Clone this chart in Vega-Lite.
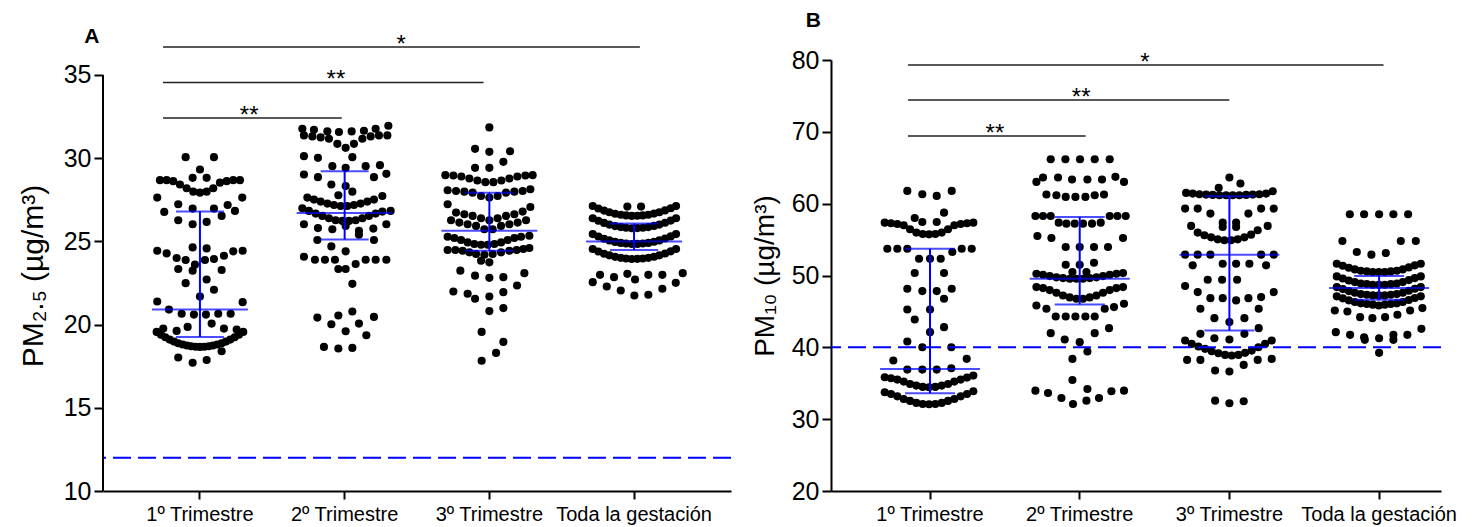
{
  "$schema": "https://vega.github.io/schema/vega-lite/v6.json",
  "padding": {"left": 18, "top": 9, "right": 5, "bottom": 5},
  "config": {
    "font": "Liberation Sans",
    "view": {"stroke": null},
    "axis": {"grid": false, "domainColor": "#000", "domainWidth": 2, "tickColor": "#000", "tickWidth": 2, "labelColor": "#000", "titleColor": "#000", "labelFont": "Liberation Sans", "titleFont": "Liberation Sans"},
    "axisX": {"labelFontSize": 20, "labelAngle": 0, "tickSize": 8, "labelPadding": 5},
    "axisY": {"labelFontSize": 25, "tickSize": 9, "labelPadding": 3, "titleFontSize": 28, "titleFontWeight": "normal", "titlePadding": 12},
    "text": {"font": "Liberation Sans"}
  },
  "spacing": 19,
  "resolve": {"scale": {"xOffset": "independent"}},
  "datasets": {
    "pa": [
      {"g":1,"v":30.06,"o":-14.3},{"g":1,"v":30.06,"o":14},{"g":1,"v":29.32,"o":0},{"g":1,"v":28.82,"o":-7.3},{"g":1,"v":28.82,"o":6.7},
      {"g":1,"v":28.68,"o":-40},{"g":1,"v":28.68,"o":-33.3},{"g":1,"v":28.62,"o":-26.7},{"g":1,"v":28.42,"o":-20},{"g":1,"v":28.19,"o":-13.3},{"g":1,"v":27.99,"o":-6.7},{"g":1,"v":27.93,"o":0},{"g":1,"v":27.99,"o":6.7},{"g":1,"v":28.19,"o":13.3},{"g":1,"v":28.53,"o":20},{"g":1,"v":28.62,"o":26.7},{"g":1,"v":28.68,"o":33.3},{"g":1,"v":28.68,"o":40},
      {"g":1,"v":27.63,"o":-42.7},{"g":1,"v":27.63,"o":42.3},{"g":1,"v":27.23,"o":-21.7},{"g":1,"v":27.19,"o":27.7},{"g":1,"v":26.77,"o":-35.7},{"g":1,"v":26.97,"o":-7.3},{"g":1,"v":26.97,"o":14},{"g":1,"v":26.83,"o":35},{"g":1,"v":26.53,"o":21.7},{"g":1,"v":26.27,"o":-21.7},{"g":1,"v":26.03,"o":-7.3},{"g":1,"v":26.17,"o":6.7},
      {"g":1,"v":24.44,"o":-42.7},{"g":1,"v":24.28,"o":-33.3},{"g":1,"v":24.0,"o":-23.3},{"g":1,"v":23.88,"o":-14.3},{"g":1,"v":24.64,"o":-7.3},{"g":1,"v":24.58,"o":6.7},{"g":1,"v":23.88,"o":5},{"g":1,"v":23.94,"o":14},{"g":1,"v":24.14,"o":24},{"g":1,"v":24.4,"o":33.3},{"g":1,"v":24.44,"o":42.7},
      {"g":1,"v":23.6,"o":-5},{"g":1,"v":23.34,"o":-21.7},{"g":1,"v":23.24,"o":-7.3},{"g":1,"v":23.28,"o":21.7},{"g":1,"v":22.49,"o":-14.3},{"g":1,"v":22.71,"o":6.7},{"g":1,"v":22.09,"o":14},{"g":1,"v":21.69,"o":0},{"g":1,"v":21.39,"o":-42.7},{"g":1,"v":21.35,"o":42.7},{"g":1,"v":20.9,"o":-31},
      {"g":1,"v":20.65,"o":-18.3},{"g":1,"v":20.6,"o":-6},{"g":1,"v":20.6,"o":6},{"g":1,"v":20.65,"o":18.3},{"g":1,"v":20.65,"o":30.7},{"g":1,"v":20.06,"o":11.7},
      {"g":1,"v":19.76,"o":-36.7},{"g":1,"v":19.62,"o":-23.3},{"g":1,"v":19.86,"o":-12.3},{"g":1,"v":19.76,"o":24},{"g":1,"v":19.7,"o":36.7},
      {"g":1,"v":19.56,"o":-43.3},{"g":1,"v":19.39,"o":-39},{"g":1,"v":19.24,"o":-34.7},{"g":1,"v":19.1,"o":-30.3},{"g":1,"v":18.98,"o":-26},{"g":1,"v":18.88,"o":-21.7},{"g":1,"v":18.8,"o":-17.3},{"g":1,"v":18.74,"o":-13},{"g":1,"v":18.7,"o":-8.7},{"g":1,"v":18.67,"o":-4.3},{"g":1,"v":18.66,"o":0},{"g":1,"v":18.67,"o":4.3},{"g":1,"v":18.7,"o":8.7},{"g":1,"v":18.74,"o":13},{"g":1,"v":18.8,"o":17.3},{"g":1,"v":18.88,"o":21.7},{"g":1,"v":18.98,"o":26},{"g":1,"v":19.1,"o":30.3},{"g":1,"v":19.24,"o":34.7},{"g":1,"v":19.39,"o":39},{"g":1,"v":19.56,"o":43.3},
      {"g":1,"v":18.02,"o":-21.7},{"g":1,"v":17.71,"o":-7.3},{"g":1,"v":17.87,"o":6.7},{"g":1,"v":18.4,"o":21.7},

      {"g":2,"v":31.77,"o":-42.3},{"g":2,"v":31.71,"o":-30.7},{"g":2,"v":31.61,"o":-17.3},{"g":2,"v":31.57,"o":-5.7},{"g":2,"v":31.61,"o":7},{"g":2,"v":31.65,"o":19.3},{"g":2,"v":31.77,"o":31},{"g":2,"v":31.95,"o":43.7},
      {"g":2,"v":31.37,"o":-40.7},{"g":2,"v":31.31,"o":-32.3},{"g":2,"v":31.25,"o":-24},{"g":2,"v":31.17,"o":-15.7},{"g":2,"v":30.86,"o":-7.3},{"g":2,"v":30.62,"o":1},{"g":2,"v":30.86,"o":9.3},{"g":2,"v":31.17,"o":17.7},{"g":2,"v":31.31,"o":26},{"g":2,"v":31.37,"o":34.3},{"g":2,"v":31.37,"o":42.7},
      {"g":2,"v":30.12,"o":-40.7},{"g":2,"v":30.02,"o":-26.7},{"g":2,"v":30.06,"o":7.7},{"g":2,"v":29.52,"o":-12.3},{"g":2,"v":29.42,"o":1},{"g":2,"v":29.52,"o":21},{"g":2,"v":29.58,"o":35.3},
      {"g":2,"v":29.02,"o":-40.7},{"g":2,"v":28.86,"o":-26.7},{"g":2,"v":28.86,"o":29.3},{"g":2,"v":29.06,"o":41.7},{"g":2,"v":28.42,"o":-13.3},{"g":2,"v":28.33,"o":1},{"g":2,"v":27.99,"o":7.7},{"g":2,"v":27.77,"o":-6.3},
      {"g":2,"v":27.63,"o":-37.3},{"g":2,"v":27.51,"o":-30.7},{"g":2,"v":27.39,"o":-24},{"g":2,"v":27.27,"o":-17.3},{"g":2,"v":27.19,"o":-10.7},{"g":2,"v":27.13,"o":-4},{"g":2,"v":27.13,"o":2.7},{"g":2,"v":27.19,"o":9.3},{"g":2,"v":27.27,"o":16},{"g":2,"v":27.39,"o":22.7},{"g":2,"v":27.51,"o":29.3},{"g":2,"v":27.73,"o":37.7},
      {"g":2,"v":26.99,"o":-42.3},{"g":2,"v":26.83,"o":-35.7},{"g":2,"v":26.67,"o":-29},{"g":2,"v":26.53,"o":-22.3},{"g":2,"v":26.39,"o":-15.7},{"g":2,"v":26.27,"o":-9},{"g":2,"v":26.23,"o":-2.3},{"g":2,"v":26.23,"o":4.3},{"g":2,"v":26.27,"o":11},{"g":2,"v":26.39,"o":17.7},{"g":2,"v":26.53,"o":24.3},{"g":2,"v":26.67,"o":31},{"g":2,"v":26.79,"o":37.7},{"g":2,"v":26.83,"o":46},
      {"g":2,"v":26.03,"o":-40.7},{"g":2,"v":25.8,"o":-26.7},{"g":2,"v":25.73,"o":-12.3},{"g":2,"v":25.93,"o":1},{"g":2,"v":25.64,"o":14.3},{"g":2,"v":25.77,"o":28.7},{"g":2,"v":26.03,"o":41.7},
      {"g":2,"v":25.08,"o":-27.3},{"g":2,"v":24.7,"o":-13.3},{"g":2,"v":24.4,"o":1},{"g":2,"v":25.4,"o":14.3},{"g":2,"v":25.08,"o":29.3},
      {"g":2,"v":24.08,"o":-40.7},{"g":2,"v":23.9,"o":-29.7},{"g":2,"v":23.9,"o":-19.7},{"g":2,"v":23.9,"o":-9.7},{"g":2,"v":23.64,"o":11},{"g":2,"v":23.9,"o":21},{"g":2,"v":23.9,"o":31},{"g":2,"v":23.9,"o":41.7},
      {"g":2,"v":23.34,"o":-6.3},{"g":2,"v":23.34,"o":1},{"g":2,"v":22.45,"o":7.7},
      {"g":2,"v":20.55,"o":-6.3},{"g":2,"v":20.79,"o":7.7},{"g":2,"v":20.42,"o":-27.3},{"g":2,"v":20.02,"o":-13.3},{"g":2,"v":20.06,"o":14.3},{"g":2,"v":20.46,"o":29.3},{"g":2,"v":19.6,"o":1},{"g":2,"v":19.36,"o":21.7},
      {"g":2,"v":18.66,"o":-20.7},{"g":2,"v":18.56,"o":-6.3},{"g":2,"v":18.6,"o":7.7},

      {"g":3,"v":31.85,"o":0},{"g":3,"v":30.56,"o":-14.3},{"g":3,"v":30.38,"o":0},{"g":3,"v":30.42,"o":20.7},{"g":3,"v":29.78,"o":14},{"g":3,"v":29.42,"o":-14.3},{"g":3,"v":29.42,"o":0},
      {"g":3,"v":28.98,"o":-44},{"g":3,"v":28.96,"o":-36},{"g":3,"v":28.9,"o":-28},{"g":3,"v":28.78,"o":-20},{"g":3,"v":28.66,"o":-12},{"g":3,"v":28.56,"o":-4},{"g":3,"v":28.56,"o":4},{"g":3,"v":28.66,"o":12},{"g":3,"v":28.78,"o":20},{"g":3,"v":28.9,"o":28},{"g":3,"v":28.96,"o":36},{"g":3,"v":28.98,"o":43.3},
      {"g":3,"v":28.07,"o":-41.7},{"g":3,"v":28.03,"o":-33.3},{"g":3,"v":27.99,"o":-25},{"g":3,"v":27.93,"o":-16.7},{"g":3,"v":27.73,"o":-8.3},{"g":3,"v":27.63,"o":0},{"g":3,"v":27.73,"o":8.3},{"g":3,"v":27.93,"o":16.7},{"g":3,"v":27.99,"o":25},{"g":3,"v":28.03,"o":33.3},{"g":3,"v":28.13,"o":41},
      {"g":3,"v":27.23,"o":-41.7},{"g":3,"v":27.07,"o":41},
      {"g":3,"v":26.73,"o":-33.3},{"g":3,"v":26.63,"o":-25},{"g":3,"v":26.53,"o":-16.7},{"g":3,"v":26.39,"o":-8.3},{"g":3,"v":26.27,"o":0},{"g":3,"v":26.39,"o":8.3},{"g":3,"v":26.53,"o":16.7},{"g":3,"v":26.63,"o":25},{"g":3,"v":26.79,"o":33.3},
      {"g":3,"v":26.27,"o":-38.3},{"g":3,"v":26.13,"o":-30},{"g":3,"v":26.03,"o":-21.7},{"g":3,"v":25.93,"o":-13.3},{"g":3,"v":25.73,"o":-5},{"g":3,"v":25.73,"o":3.3},{"g":3,"v":25.93,"o":11.7},{"g":3,"v":26.03,"o":20},{"g":3,"v":26.13,"o":28.3},{"g":3,"v":26.27,"o":36.7},
      {"g":3,"v":25.28,"o":-41.7},{"g":3,"v":25.2,"o":-35},{"g":3,"v":25.08,"o":-28.3},{"g":3,"v":24.94,"o":-21.7},{"g":3,"v":24.84,"o":-15},{"g":3,"v":24.8,"o":-8.3},{"g":3,"v":24.8,"o":-1.7},{"g":3,"v":24.84,"o":5},{"g":3,"v":24.94,"o":11.7},{"g":3,"v":25.08,"o":18.3},{"g":3,"v":25.2,"o":25},{"g":3,"v":25.28,"o":31.7},{"g":3,"v":25.34,"o":40},
      {"g":3,"v":24.48,"o":-41.7},{"g":3,"v":24.48,"o":-34},{"g":3,"v":24.44,"o":-26.7},{"g":3,"v":24.34,"o":-20},{"g":3,"v":24.24,"o":-13.3},{"g":3,"v":24.2,"o":-5},{"g":3,"v":24.24,"o":3.3},{"g":3,"v":24.34,"o":11.7},{"g":3,"v":24.44,"o":20},{"g":3,"v":24.48,"o":27.3},{"g":3,"v":24.54,"o":34},{"g":3,"v":24.6,"o":40},
      {"g":3,"v":23.84,"o":-8.3},{"g":3,"v":23.74,"o":0},{"g":3,"v":23.24,"o":-29},{"g":3,"v":22.94,"o":-14.3},{"g":3,"v":22.81,"o":0},{"g":3,"v":22.85,"o":14},{"g":3,"v":23.09,"o":35},{"g":3,"v":22.35,"o":27.7},
      {"g":3,"v":21.99,"o":-36},{"g":3,"v":21.85,"o":-21.7},{"g":3,"v":21.55,"o":-14.3},{"g":3,"v":21.69,"o":0},{"g":3,"v":21.95,"o":14},{"g":3,"v":20.81,"o":0},{"g":3,"v":20.99,"o":14},
      {"g":3,"v":19.56,"o":-7.7},{"g":3,"v":18.96,"o":14},{"g":3,"v":18.3,"o":6.7},{"g":3,"v":17.83,"o":-7.7},

      {"g":4,"v":27.09,"o":-6.7},{"g":4,"v":27.09,"o":7},
      {"g":4,"v":27.13,"o":-41.3},{"g":4,"v":26.98,"o":-35.7},{"g":4,"v":26.85,"o":-30},{"g":4,"v":26.75,"o":-24.7},{"g":4,"v":26.66,"o":-19},{"g":4,"v":26.6,"o":-13.3},{"g":4,"v":26.56,"o":-8},{"g":4,"v":26.53,"o":-2.3},{"g":4,"v":26.54,"o":3.3},{"g":4,"v":26.56,"o":8.7},{"g":4,"v":26.6,"o":14.3},{"g":4,"v":26.67,"o":20},{"g":4,"v":26.75,"o":25.3},{"g":4,"v":26.86,"o":31},{"g":4,"v":26.99,"o":36.7},{"g":4,"v":27.13,"o":42},
      {"g":4,"v":26.39,"o":-41.3},{"g":4,"v":26.24,"o":-35.7},{"g":4,"v":26.11,"o":-30},{"g":4,"v":26.01,"o":-24.7},{"g":4,"v":25.92,"o":-19},{"g":4,"v":25.86,"o":-13.3},{"g":4,"v":25.82,"o":-8},{"g":4,"v":25.79,"o":-2.3},{"g":4,"v":25.8,"o":3.3},{"g":4,"v":25.82,"o":8.7},{"g":4,"v":25.86,"o":14.3},{"g":4,"v":25.93,"o":20},{"g":4,"v":26.01,"o":25.3},{"g":4,"v":26.12,"o":31},{"g":4,"v":26.25,"o":36.7},{"g":4,"v":26.39,"o":42},
      {"g":4,"v":25.44,"o":-41.3},{"g":4,"v":25.29,"o":-35.7},{"g":4,"v":25.16,"o":-30},{"g":4,"v":25.06,"o":-24.7},{"g":4,"v":24.97,"o":-19},{"g":4,"v":24.91,"o":-13.3},{"g":4,"v":24.87,"o":-8},{"g":4,"v":24.84,"o":-2.3},{"g":4,"v":24.85,"o":3.3},{"g":4,"v":24.87,"o":8.7},{"g":4,"v":24.91,"o":14.3},{"g":4,"v":24.98,"o":20},{"g":4,"v":25.06,"o":25.3},{"g":4,"v":25.17,"o":31},{"g":4,"v":25.3,"o":36.7},{"g":4,"v":25.44,"o":42},
      {"g":4,"v":24.54,"o":-41.3},{"g":4,"v":24.39,"o":-35.7},{"g":4,"v":24.26,"o":-30},{"g":4,"v":24.16,"o":-24.7},{"g":4,"v":24.07,"o":-19},{"g":4,"v":24.01,"o":-13.3},{"g":4,"v":23.97,"o":-8},{"g":4,"v":23.94,"o":-2.3},{"g":4,"v":23.95,"o":3.3},{"g":4,"v":23.97,"o":8.7},{"g":4,"v":24.01,"o":14.3},{"g":4,"v":24.08,"o":20},{"g":4,"v":24.16,"o":25.3},{"g":4,"v":24.27,"o":31},{"g":4,"v":24.4,"o":36.7},{"g":4,"v":24.54,"o":42},
      {"g":4,"v":22.99,"o":-34},{"g":4,"v":22.85,"o":-20},{"g":4,"v":23.05,"o":-6.7},{"g":4,"v":22.71,"o":1},{"g":4,"v":22.99,"o":14.3},{"g":4,"v":22.99,"o":28.3},{"g":4,"v":23.09,"o":48.7},
      {"g":4,"v":22.55,"o":-41.3},{"g":4,"v":22.29,"o":-27.3},{"g":4,"v":22.05,"o":-13.3},{"g":4,"v":21.75,"o":0.3},{"g":4,"v":21.79,"o":14.3},{"g":4,"v":22.15,"o":28.3},{"g":4,"v":22.51,"o":41.7}
    ],
    "pb": [
      {"g":1,"v":61.78,"o":-22.7},{"g":1,"v":61.31,"o":-7.7},{"g":1,"v":61.08,"o":6.7},{"g":1,"v":61.78,"o":21.7},{"g":1,"v":58.75,"o":14},{"g":1,"v":58.01,"o":-15.3},{"g":1,"v":57.45,"o":-7.7},{"g":1,"v":57.45,"o":6.7},
      {"g":1,"v":57.36,"o":-45.3},{"g":1,"v":57.27,"o":-39},{"g":1,"v":57.17,"o":-32.7},{"g":1,"v":56.99,"o":-26.3},{"g":1,"v":56.43,"o":-20},{"g":1,"v":55.97,"o":-13.7},{"g":1,"v":55.78,"o":-7.3},{"g":1,"v":55.73,"o":-1},{"g":1,"v":55.78,"o":5.3},{"g":1,"v":55.97,"o":11.7},{"g":1,"v":56.43,"o":18},{"g":1,"v":56.99,"o":24.3},{"g":1,"v":57.17,"o":30.7},{"g":1,"v":57.27,"o":37},{"g":1,"v":57.36,"o":43.3},
      {"g":1,"v":53.73,"o":-42.7},{"g":1,"v":53.73,"o":-32.7},{"g":1,"v":53.73,"o":-22.7},{"g":1,"v":53.27,"o":22.3},{"g":1,"v":53.73,"o":31.7},{"g":1,"v":53.73,"o":41.7},
      {"g":1,"v":52.34,"o":-11},{"g":1,"v":52.34,"o":0},{"g":1,"v":52.34,"o":10.7},{"g":1,"v":50.34,"o":-15.3},{"g":1,"v":50.34,"o":14},
      {"g":1,"v":48.15,"o":-22.7},{"g":1,"v":47.83,"o":-7.7},{"g":1,"v":47.83,"o":6.7},{"g":1,"v":48.15,"o":21.7},{"g":1,"v":46.76,"o":14},
      {"g":1,"v":45.27,"o":-22.7},{"g":1,"v":45.27,"o":0},{"g":1,"v":43.88,"o":-15.3},{"g":1,"v":42.11,"o":0},{"g":1,"v":42.81,"o":14},
      {"g":1,"v":40.81,"o":-22.7},{"g":1,"v":40.02,"o":-7.7},{"g":1,"v":40.02,"o":21.3},{"g":1,"v":38.16,"o":-36.7},{"g":1,"v":38.4,"o":36.7},
      {"g":1,"v":36.9,"o":-22.7},{"g":1,"v":36.9,"o":-7.7},{"g":1,"v":36.9,"o":6.7},{"g":1,"v":37.09,"o":21.3},
      {"g":1,"v":35.83,"o":-45.3},{"g":1,"v":35.7,"o":-39},{"g":1,"v":35.51,"o":-32.7},{"g":1,"v":35.23,"o":-26.3},{"g":1,"v":34.9,"o":-20},{"g":1,"v":34.67,"o":-13.7},{"g":1,"v":34.49,"o":-7.3},{"g":1,"v":34.44,"o":-1},{"g":1,"v":34.49,"o":5.3},{"g":1,"v":34.67,"o":11.7},{"g":1,"v":34.9,"o":18},{"g":1,"v":35.23,"o":24.3},{"g":1,"v":35.51,"o":30.7},{"g":1,"v":35.79,"o":37},{"g":1,"v":36.07,"o":43.3},
      {"g":1,"v":33.74,"o":-45.3},{"g":1,"v":33.51,"o":-39},{"g":1,"v":33.18,"o":-32.7},{"g":1,"v":32.81,"o":-26.3},{"g":1,"v":32.54,"o":-20},{"g":1,"v":32.26,"o":-13.7},{"g":1,"v":32.12,"o":-7.3},{"g":1,"v":32.07,"o":-1},{"g":1,"v":32.12,"o":5.3},{"g":1,"v":32.26,"o":11.7},{"g":1,"v":32.54,"o":18},{"g":1,"v":32.81,"o":24.3},{"g":1,"v":33.18,"o":30.7},{"g":1,"v":33.51,"o":37},{"g":1,"v":33.88,"o":43.3},

      {"g":2,"v":66.19,"o":-29},{"g":2,"v":66.19,"o":-14.3},{"g":2,"v":66.19,"o":0.3},{"g":2,"v":66.19,"o":15},{"g":2,"v":66.19,"o":30},
      {"g":2,"v":63.03,"o":-43.3},{"g":2,"v":63.64,"o":-36.7},{"g":2,"v":63.64,"o":-21.7},{"g":2,"v":63.36,"o":-7.7},{"g":2,"v":63.36,"o":7.7},{"g":2,"v":63.36,"o":22.3},{"g":2,"v":63.73,"o":35.7},{"g":2,"v":63.03,"o":44.3},
      {"g":2,"v":61.27,"o":-33.3},{"g":2,"v":61.17,"o":-23.3},{"g":2,"v":60.94,"o":-14},{"g":2,"v":60.94,"o":-4.3},{"g":2,"v":60.94,"o":5.7},{"g":2,"v":61.17,"o":15},{"g":2,"v":61.27,"o":24.3},
      {"g":2,"v":58.29,"o":-44.3},{"g":2,"v":58.29,"o":-36.7},{"g":2,"v":58.29,"o":-29},{"g":2,"v":58.29,"o":30},{"g":2,"v":58.29,"o":37.7},{"g":2,"v":58.29,"o":46},
      {"g":2,"v":57.36,"o":-21},{"g":2,"v":57.22,"o":-13.3},{"g":2,"v":57.22,"o":-5},{"g":2,"v":57.22,"o":3.3},{"g":2,"v":57.22,"o":12.3},{"g":2,"v":57.36,"o":21},
      {"g":2,"v":55.5,"o":-42.3},{"g":2,"v":55.22,"o":-28.3},{"g":2,"v":55.22,"o":43.3},
      {"g":2,"v":53.97,"o":-14},{"g":2,"v":53.97,"o":0},{"g":2,"v":53.97,"o":14.3},{"g":2,"v":53.97,"o":28.3},
      {"g":2,"v":51.5,"o":-14},{"g":2,"v":51.5,"o":0},{"g":2,"v":51.78,"o":14.3},{"g":2,"v":50.48,"o":-7.3},{"g":2,"v":50.48,"o":6.7},
      {"g":2,"v":50.25,"o":-43.3},{"g":2,"v":50.11,"o":-36.7},{"g":2,"v":49.92,"o":-30},{"g":2,"v":49.74,"o":-23.3},{"g":2,"v":49.64,"o":-16.7},{"g":2,"v":49.55,"o":-10},{"g":2,"v":49.55,"o":-3.3},{"g":2,"v":49.55,"o":3.3},{"g":2,"v":49.64,"o":10},{"g":2,"v":49.74,"o":16.7},{"g":2,"v":49.92,"o":23.3},{"g":2,"v":50.11,"o":30},{"g":2,"v":50.25,"o":36.7},{"g":2,"v":50.34,"o":43.3},
      {"g":2,"v":48.39,"o":-43.3},{"g":2,"v":48.25,"o":-36.7},{"g":2,"v":47.97,"o":-30},{"g":2,"v":47.6,"o":-23.3},{"g":2,"v":47.22,"o":-16.7},{"g":2,"v":46.95,"o":-10},{"g":2,"v":46.76,"o":-3.3},{"g":2,"v":46.76,"o":3.3},{"g":2,"v":46.95,"o":10},{"g":2,"v":47.22,"o":16.7},{"g":2,"v":47.6,"o":23.3},{"g":2,"v":47.97,"o":30},{"g":2,"v":48.25,"o":36.7},{"g":2,"v":48.39,"o":43.3},
      {"g":2,"v":45.83,"o":-43.3},{"g":2,"v":45.37,"o":-33.3},{"g":2,"v":45.37,"o":25},{"g":2,"v":45.6,"o":34.3},{"g":2,"v":46.06,"o":44.3},
      {"g":2,"v":44.3,"o":-24},{"g":2,"v":44.3,"o":-14},{"g":2,"v":44.3,"o":-4.3},{"g":2,"v":44.3,"o":5.7},{"g":2,"v":44.3,"o":15},
      {"g":2,"v":41.97,"o":-29},{"g":2,"v":41.09,"o":-15},{"g":2,"v":40.72,"o":0},{"g":2,"v":41.97,"o":15},{"g":2,"v":42.67,"o":29.3},
      {"g":2,"v":39.42,"o":7.7},{"g":2,"v":38.39,"o":-7.3},{"g":2,"v":35.46,"o":-7.3},
      {"g":2,"v":33.97,"o":-44.3},{"g":2,"v":33.65,"o":-31.7},{"g":2,"v":32.95,"o":-18.3},{"g":2,"v":32.12,"o":-6.7},{"g":2,"v":32.58,"o":6.7},{"g":2,"v":34.2,"o":7.7},{"g":2,"v":32.95,"o":19.3},{"g":2,"v":33.88,"o":31.7},{"g":2,"v":33.97,"o":44.3},

      {"g":3,"v":63.64,"o":0},{"g":3,"v":62.2,"o":-10.7},{"g":3,"v":62.8,"o":11},
      {"g":3,"v":61.5,"o":-43.3},{"g":3,"v":61.4,"o":-36.7},{"g":3,"v":61.31,"o":-30},{"g":3,"v":61.26,"o":-23.3},{"g":3,"v":61.22,"o":-16.7},{"g":3,"v":61.17,"o":-10},{"g":3,"v":61.17,"o":-3.3},{"g":3,"v":61.17,"o":3.3},{"g":3,"v":61.17,"o":10},{"g":3,"v":61.22,"o":16.7},{"g":3,"v":61.26,"o":23.3},{"g":3,"v":61.31,"o":30},{"g":3,"v":61.4,"o":36.7},{"g":3,"v":61.73,"o":43.3},
      {"g":3,"v":59.31,"o":-44.3},{"g":3,"v":59.31,"o":-31.7},{"g":3,"v":58.62,"o":-19},{"g":3,"v":58.62,"o":19},{"g":3,"v":59.31,"o":31.7},{"g":3,"v":59.31,"o":44.3},
      {"g":3,"v":57.36,"o":-6.7},{"g":3,"v":57.36,"o":6.7},{"g":3,"v":56.76,"o":-6.7},{"g":3,"v":56.76,"o":6.7},{"g":3,"v":56.9,"o":-38.3},{"g":3,"v":56.9,"o":38.3},
      {"g":3,"v":55.97,"o":-31.7},{"g":3,"v":55.6,"o":-25},{"g":3,"v":55.31,"o":-18.3},{"g":3,"v":55.03,"o":-11.7},{"g":3,"v":54.9,"o":-5},{"g":3,"v":54.9,"o":1.7},{"g":3,"v":55.03,"o":8.3},{"g":3,"v":55.31,"o":15},{"g":3,"v":55.69,"o":21.7},{"g":3,"v":56.3,"o":28.3},
      {"g":3,"v":52.9,"o":-44.3},{"g":3,"v":52.9,"o":-31.7},{"g":3,"v":52.9,"o":-19},{"g":3,"v":52.9,"o":31.7},{"g":3,"v":52.9,"o":44.3},
      {"g":3,"v":51.41,"o":-36.7},{"g":3,"v":51.64,"o":-6.7},{"g":3,"v":51.64,"o":6.7},{"g":3,"v":51.64,"o":20},{"g":3,"v":51.41,"o":36.7},
      {"g":3,"v":49.41,"o":-21.7},{"g":3,"v":49.41,"o":-7.3},{"g":3,"v":49.41,"o":7.7},
      {"g":3,"v":48.53,"o":-44.3},{"g":3,"v":47.69,"o":-31.7},{"g":3,"v":46.85,"o":-19},{"g":3,"v":46.85,"o":-6.7},{"g":3,"v":46.53,"o":6.7},{"g":3,"v":46.85,"o":19},{"g":3,"v":46.99,"o":31.7},{"g":3,"v":47.69,"o":44.3},
      {"g":3,"v":45.37,"o":-29},{"g":3,"v":45.37,"o":29.3},{"g":3,"v":44.06,"o":-15},{"g":3,"v":44.06,"o":15},{"g":3,"v":43.51,"o":0},
      {"g":3,"v":41.88,"o":-29},{"g":3,"v":42.67,"o":29.3},{"g":3,"v":41.88,"o":15},{"g":3,"v":41.27,"o":-15},{"g":3,"v":41.09,"o":0},
      {"g":3,"v":40.95,"o":-44.3},{"g":3,"v":40.48,"o":-37.7},{"g":3,"v":40.11,"o":-31},{"g":3,"v":39.79,"o":-24.3},{"g":3,"v":39.46,"o":-17.7},{"g":3,"v":39.18,"o":-11},{"g":3,"v":38.95,"o":-4.3},{"g":3,"v":38.86,"o":2.3},{"g":3,"v":38.95,"o":9},{"g":3,"v":39.23,"o":15.7},{"g":3,"v":39.55,"o":22.3},{"g":3,"v":40.02,"o":29},{"g":3,"v":40.48,"o":35.7},{"g":3,"v":40.95,"o":42.3},
      {"g":3,"v":38.25,"o":-42.3},{"g":3,"v":38.25,"o":-29},{"g":3,"v":38.25,"o":28.3},{"g":3,"v":38.39,"o":42.3},
      {"g":3,"v":36.77,"o":-14.3},{"g":3,"v":36.63,"o":0},{"g":3,"v":37.55,"o":14.3},
      {"g":3,"v":32.58,"o":-14.3},{"g":3,"v":32.21,"o":0},{"g":3,"v":32.49,"o":14.3},

      {"g":4,"v":58.52,"o":-29.3},{"g":4,"v":58.52,"o":-15},{"g":4,"v":58.52,"o":0},{"g":4,"v":58.52,"o":14.3},{"g":4,"v":58.52,"o":29},
      {"g":4,"v":54.8,"o":-36.7},{"g":4,"v":54.8,"o":21.7},{"g":4,"v":54.8,"o":36.7},
      {"g":4,"v":53.27,"o":-22.3},{"g":4,"v":52.9,"o":-7.7},{"g":4,"v":53.13,"o":6.7},
      {"g":4,"v":51.64,"o":-42.3},{"g":4,"v":51.36,"o":-36.3},{"g":4,"v":51.08,"o":-30.3},{"g":4,"v":50.85,"o":-24.3},{"g":4,"v":50.66,"o":-18.3},{"g":4,"v":50.57,"o":-12.3},{"g":4,"v":50.48,"o":-6.3},{"g":4,"v":50.48,"o":-0.3},{"g":4,"v":50.48,"o":5.7},{"g":4,"v":50.57,"o":11.7},{"g":4,"v":50.66,"o":17.7},{"g":4,"v":50.85,"o":23.7},{"g":4,"v":51.13,"o":29.7},{"g":4,"v":51.41,"o":35.7},{"g":4,"v":51.64,"o":41.7},
      {"g":4,"v":49.87,"o":-42.3},{"g":4,"v":49.59,"o":-36.3},{"g":4,"v":49.31,"o":-30.3},{"g":4,"v":49.08,"o":-24.3},{"g":4,"v":48.89,"o":-18.3},{"g":4,"v":48.8,"o":-12.3},{"g":4,"v":48.71,"o":-6.3},{"g":4,"v":48.71,"o":-0.3},{"g":4,"v":48.71,"o":5.7},{"g":4,"v":48.8,"o":11.7},{"g":4,"v":48.89,"o":17.7},{"g":4,"v":49.08,"o":23.7},{"g":4,"v":49.36,"o":29.7},{"g":4,"v":49.64,"o":35.7},{"g":4,"v":49.87,"o":41.7},
      {"g":4,"v":48.39,"o":-42.3},{"g":4,"v":48.11,"o":-36.3},{"g":4,"v":47.83,"o":-30.3},{"g":4,"v":47.6,"o":-24.3},{"g":4,"v":47.41,"o":-18.3},{"g":4,"v":47.32,"o":-12.3},{"g":4,"v":47.23,"o":-6.3},{"g":4,"v":47.23,"o":-0.3},{"g":4,"v":47.23,"o":5.7},{"g":4,"v":47.32,"o":11.7},{"g":4,"v":47.41,"o":17.7},{"g":4,"v":47.6,"o":23.7},{"g":4,"v":47.88,"o":29.7},{"g":4,"v":48.16,"o":35.7},{"g":4,"v":48.39,"o":41.7},
      {"g":4,"v":47.1,"o":-42.3},{"g":4,"v":46.82,"o":-36.3},{"g":4,"v":46.54,"o":-30.3},{"g":4,"v":46.31,"o":-24.3},{"g":4,"v":46.12,"o":-18.3},{"g":4,"v":46.03,"o":-12.3},{"g":4,"v":45.94,"o":-6.3},{"g":4,"v":45.83,"o":-0.3},{"g":4,"v":45.94,"o":5.7},{"g":4,"v":46.03,"o":11.7},{"g":4,"v":46.12,"o":17.7},{"g":4,"v":46.31,"o":23.7},{"g":4,"v":46.59,"o":29.7},{"g":4,"v":46.87,"o":35.7},{"g":4,"v":47.1,"o":41.7},
      {"g":4,"v":45.13,"o":-44.3},{"g":4,"v":44.99,"o":-31.7},{"g":4,"v":44.2,"o":-19},{"g":4,"v":44.06,"o":-6.7},{"g":4,"v":44.2,"o":6},{"g":4,"v":44.53,"o":18.3},{"g":4,"v":45.13,"o":31},{"g":4,"v":45.46,"o":43.3},
      {"g":4,"v":42.11,"o":-43.3},{"g":4,"v":41.74,"o":-29},{"g":4,"v":41.41,"o":-15},{"g":4,"v":41.04,"o":-14.3},{"g":4,"v":41.27,"o":0},{"g":4,"v":41.74,"o":14.3},{"g":4,"v":41.04,"o":14.3},{"g":4,"v":41.74,"o":28.3},{"g":4,"v":42.57,"o":42.3},
      {"g":4,"v":39.23,"o":0}
    ],
    "sa": [
      {"g":1,"q1":19.26,"med":20.9,"q3":26.8},
      {"g":2,"q1":25.12,"med":26.71,"q3":29.22},
      {"g":3,"q1":24.44,"med":25.64,"q3":27.93},
      {"g":4,"q1":24.48,"med":25.0,"q3":26.07}
    ],
    "sb": [
      {"g":1,"q1":33.6,"med":37.0,"q3":53.73},
      {"g":2,"q1":45.97,"med":49.55,"q3":58.15},
      {"g":3,"q1":42.34,"med":52.9,"q3":61.03},
      {"g":4,"q1":46.62,"med":48.25,"q3":49.92}
    ],
    "ba": [
      {"x1":0.745,"x2":1.98,"xm":1.34,"y":32.42,"t":"**"},
      {"x1":0.745,"x2":2.96,"xm":1.94,"y":34.55,"t":"**"},
      {"x1":0.745,"x2":4.04,"xm":2.39,"y":36.68,"t":"*"}
    ],
    "bb": [
      {"x1":0.853,"x2":2.04,"xm":1.434,"y":69.42,"t":"**"},
      {"x1":0.853,"x2":3.0,"xm":2.01,"y":74.43,"t":"**"},
      {"x1":0.853,"x2":4.03,"xm":2.436,"y":79.3,"t":"*"}
    ]
  },
  "hconcat": [
    {
      "width": 628,
      "height": 431,
      "resolve": {"scale": {"x": "independent"}},
      "layer": [
        {
          "layer": [
            {
              "data": {"name": "pa"},
              "mark": {"type": "circle", "size": 66, "opacity": 1, "color": "#000"},
              "encoding": {
                "x": {"field": "g", "type": "nominal", "title": null,
                      "scale": {"domain": [1, 2, 3, 4], "paddingInner": 0, "paddingOuter": 0.17, "round": false},
                      "axis": {"labelExpr": "datum.value == 1 ? '1º Trimestre' : datum.value == 2 ? '2º Trimestre' : datum.value == 3 ? '3º Trimestre' : 'Toda la gestación'"}},
                "xOffset": {"field": "o", "type": "quantitative", "scale": {"domain": [-72.35, 72.35]}},
                "y": {"field": "v", "type": "quantitative", "title": "PM₂.₅  (µg/m³)",
                      "scale": {"domain": [10, 35.9], "nice": false, "zero": false},
                      "axis": {"values": [10, 15, 20, 25, 30, 35], "domain": false, "titleFontSize": 30, "titlePadding": 15}}
              }
            },
            {
              "data": {"values": [{"ref": 12}]},
              "mark": {"type": "rule", "color": "#0000ff", "strokeWidth": 2, "strokeDash": [18, 7]},
              "encoding": {"y": {"field": "ref", "type": "quantitative", "title": "PM₂.₅  (µg/m³)"}}
            },
            {
              "data": {"name": "sa"},
              "mark": {"type": "rule", "color": "#0000ff", "strokeWidth": 2},
              "encoding": {
                "x": {"field": "g", "type": "nominal", "title": null},
                "y": {"field": "q1", "type": "quantitative", "title": "PM₂.₅  (µg/m³)"},
                "y2": {"field": "q3"}
              }
            },
            {
              "data": {"name": "sa"},
              "mark": {"type": "tick", "orient": "horizontal", "color": "#0000ff", "size": 96, "thickness": 2},
              "encoding": {
                "x": {"field": "g", "type": "nominal", "title": null},
                "y": {"field": "med", "type": "quantitative", "title": "PM₂.₅  (µg/m³)"}
              }
            },
            {
              "data": {"name": "sa"},
              "mark": {"type": "tick", "orient": "horizontal", "color": "#0000ff", "size": 48, "thickness": 2},
              "encoding": {
                "x": {"field": "g", "type": "nominal", "title": null},
                "y": {"field": "q1", "type": "quantitative", "title": "PM₂.₅  (µg/m³)"}
              }
            },
            {
              "data": {"name": "sa"},
              "mark": {"type": "tick", "orient": "horizontal", "color": "#0000ff", "size": 48, "thickness": 2},
              "encoding": {
                "x": {"field": "g", "type": "nominal", "title": null},
                "y": {"field": "q3", "type": "quantitative", "title": "PM₂.₅  (µg/m³)"}
              }
            }
          ]
        },
        {
          "layer": [
            {
              "data": {"name": "ba"},
              "mark": {"type": "rule", "color": "#222", "strokeWidth": 1.5},
              "encoding": {
                "x": {"field": "x1", "type": "quantitative", "axis": null, "scale": {"domain": [0.33, 4.67], "nice": false, "zero": false}},
                "x2": {"field": "x2"},
                "y": {"field": "y", "type": "quantitative", "title": "PM₂.₅  (µg/m³)"}
              }
            },
            {
              "data": {"name": "ba"},
              "mark": {"type": "text", "fontSize": 24, "baseline": "alphabetic", "dy": 5, "color": "#000"},
              "encoding": {
                "x": {"field": "xm", "type": "quantitative", "axis": null},
                "y": {"field": "y", "type": "quantitative", "title": "PM₂.₅  (µg/m³)"},
                "text": {"field": "t"}
              }
            },
            {
              "data": {"values": [{"panel": "A"}]},
              "mark": {"type": "text", "fontSize": 21, "fontWeight": "bold", "align": "left", "baseline": "alphabetic", "color": "#000"},
              "encoding": {
                "x": {"datum": 0.2, "type": "quantitative", "axis": null},
                "y": {"datum": 36.92, "type": "quantitative", "title": "PM₂.₅  (µg/m³)"},
                "text": {"field": "panel"}
              }
            },
            {
              "data": {"values": [{"lo": 10, "hi": 35}]},
              "mark": {"type": "rule", "color": "#000", "strokeWidth": 2},
              "encoding": {
                "x": {"datum": 0.33, "type": "quantitative", "axis": null},
                "y": {"field": "lo", "type": "quantitative", "title": "PM₂.₅  (µg/m³)"},
                "y2": {"field": "hi"}
              }
            }
          ]
        }
      ]
    },
    {
      "width": 610,
      "height": 431,
      "resolve": {"scale": {"x": "independent"}},
      "layer": [
        {
          "layer": [
            {
              "data": {"name": "pb"},
              "mark": {"type": "circle", "size": 66, "opacity": 1, "color": "#000"},
              "encoding": {
                "x": {"field": "g", "type": "nominal", "title": null,
                      "scale": {"domain": [1, 2, 3, 4], "paddingInner": 0.173, "paddingOuter": 0.124, "align": 1, "round": false},
                      "axis": {"labelExpr": "datum.value == 1 ? '1º Trimestre' : datum.value == 2 ? '2º Trimestre' : datum.value == 3 ? '3º Trimestre' : 'Toda la gestación'"}},
                "xOffset": {"field": "o", "type": "quantitative", "scale": {"domain": [-61.9, 61.9]}},
                "y": {"field": "v", "type": "quantitative", "title": "PM₁₀ (µg/m³)",
                      "scale": {"domain": [20, 80], "nice": false, "zero": false},
                      "axis": {"values": [20, 30, 40, 50, 60, 70, 80]}}
              }
            },
            {
              "data": {"values": [{"ref": 40}]},
              "mark": {"type": "rule", "color": "#0000ff", "strokeWidth": 2, "strokeDash": [18, 7]},
              "encoding": {"y": {"field": "ref", "type": "quantitative", "title": "PM₁₀ (µg/m³)"}}
            },
            {
              "data": {"name": "sb"},
              "mark": {"type": "rule", "color": "#0000ff", "strokeWidth": 2},
              "encoding": {
                "x": {"field": "g", "type": "nominal", "title": null},
                "y": {"field": "q1", "type": "quantitative", "title": "PM₁₀ (µg/m³)"},
                "y2": {"field": "q3"}
              }
            },
            {
              "data": {"name": "sb"},
              "mark": {"type": "tick", "orient": "horizontal", "color": "#0000ff", "size": 100, "thickness": 2},
              "encoding": {
                "x": {"field": "g", "type": "nominal", "title": null},
                "y": {"field": "med", "type": "quantitative", "title": "PM₁₀ (µg/m³)"}
              }
            },
            {
              "data": {"name": "sb"},
              "mark": {"type": "tick", "orient": "horizontal", "color": "#0000ff", "size": 50, "thickness": 2},
              "encoding": {
                "x": {"field": "g", "type": "nominal", "title": null},
                "y": {"field": "q1", "type": "quantitative", "title": "PM₁₀ (µg/m³)"}
              }
            },
            {
              "data": {"name": "sb"},
              "mark": {"type": "tick", "orient": "horizontal", "color": "#0000ff", "size": 50, "thickness": 2},
              "encoding": {
                "x": {"field": "g", "type": "nominal", "title": null},
                "y": {"field": "q3", "type": "quantitative", "title": "PM₁₀ (µg/m³)"}
              }
            }
          ]
        },
        {
          "layer": [
            {
              "data": {"name": "bb"},
              "mark": {"type": "rule", "color": "#222", "strokeWidth": 1.5},
              "encoding": {
                "x": {"field": "x1", "type": "quantitative", "axis": null, "scale": {"domain": [0.339, 4.414], "nice": false, "zero": false}},
                "x2": {"field": "x2"},
                "y": {"field": "y", "type": "quantitative", "title": "PM₁₀ (µg/m³)"}
              }
            },
            {
              "data": {"name": "bb"},
              "mark": {"type": "text", "fontSize": 24, "baseline": "alphabetic", "dy": 5, "color": "#000"},
              "encoding": {
                "x": {"field": "xm", "type": "quantitative", "axis": null},
                "y": {"field": "y", "type": "quantitative", "title": "PM₁₀ (µg/m³)"},
                "text": {"field": "t"}
              }
            },
            {
              "data": {"values": [{"panel": "B"}]},
              "mark": {"type": "text", "fontSize": 21, "fontWeight": "bold", "align": "left", "baseline": "alphabetic", "color": "#000"},
              "encoding": {
                "x": {"datum": 0.17, "type": "quantitative", "axis": null},
                "y": {"datum": 84.6, "type": "quantitative", "title": "PM₁₀ (µg/m³)"},
                "text": {"field": "panel"}
              }
            }
          ]
        }
      ]
    }
  ]
}
